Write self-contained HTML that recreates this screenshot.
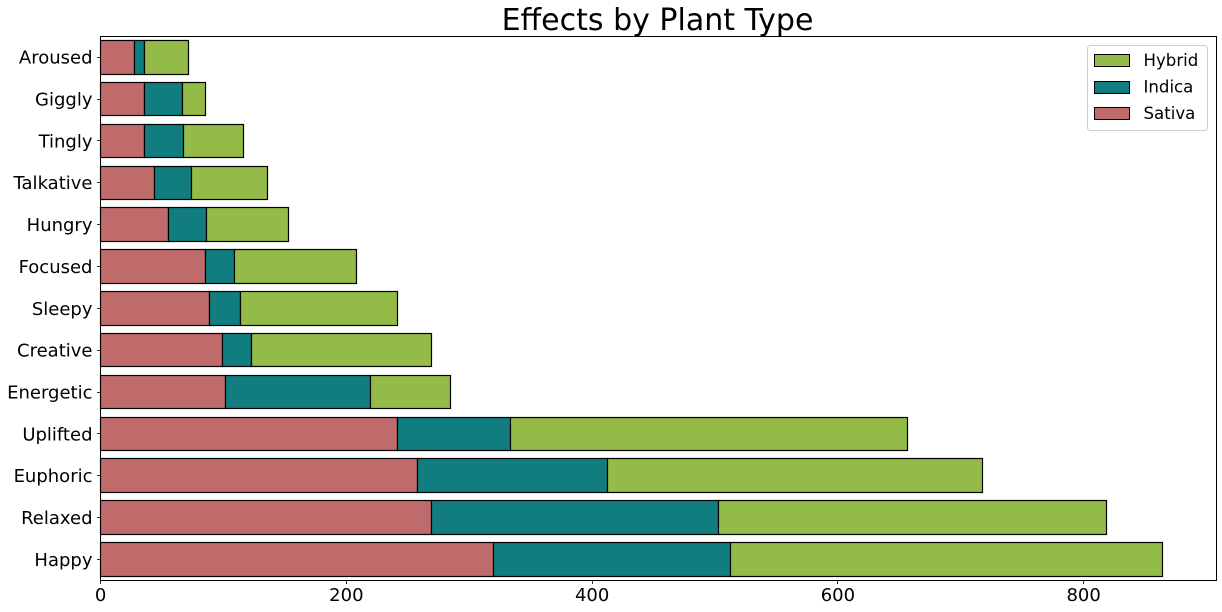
<!DOCTYPE html>
<html>
<head>
<meta charset="utf-8">
<title>Effects by Plant Type</title>
<style>
html,body{margin:0;padding:0;background:#fff;}
svg{display:block;}
text{font-family:"DejaVu Sans",sans-serif;fill:#000;}
</style>
</head>
<body>
<svg id="chart" xmlns="http://www.w3.org/2000/svg" width="1222" height="612" viewBox="0 0 1222 612"></svg>
<script>
const categories = ["Happy","Relaxed","Euphoric","Uplifted","Energetic","Creative","Sleepy","Focused","Hungry","Talkative","Tingly","Giggly","Aroused"];
const sativa = [320,269,258,241.5,102,99,88.5,85,55,44,36,36,27.5];
const indica = [193,234,154.5,92,118,24,25.5,24,31,30,31.5,31,8.5];
const hybrid = [351,316,305,323.5,65,146,128,99,67,62,48.5,18,35.5];
const xTicks = [0,200,400,600,800];
const legendLabels = ["Hybrid","Indica","Sativa"];

const NS = "http://www.w3.org/2000/svg";
const svg = document.getElementById("chart");
const plot = {left:100.5, right:1216.5, top:36.5, bottom:580.5};
const colors = {Sativa:"#bf6a6b", Indica:"#117d7e", Hybrid:"#94bb47"};

function xScale(v){ return 100.6 + v * 1.2288; }
function yScale(i){ return 559.4 - i * 41.84; }
function snap(p){ return Math.floor(p) + 0.5; }
const bandHeight = yScale(0) - yScale(0.8);

function add(tag, attrs, text){
  const el = document.createElementNS(NS, tag);
  for (const k in attrs) el.setAttribute(k, attrs[k]);
  if (text !== undefined) el.textContent = text;
  svg.appendChild(el);
  return el;
}

function drawSegment(start, value, color, seriesName, category){
  const x0 = snap(xScale(start));
  const x1 = snap(xScale(start + value));
  const i = categories.indexOf(category);
  const y0 = snap(yScale(i) - bandHeight / 2);
  const y1 = snap(yScale(i) + bandHeight / 2);
  const el = add("rect", {
    x: x0, y: y0, width: x1 - x0, height: y1 - y0,
    fill: color, stroke: "#000", "stroke-width": 1.2
  });
  
  
}

// bars
categories.forEach(function(cat, i){
  drawSegment(0, sativa[i], colors.Sativa, 'sativa', cat);
  drawSegment(sativa[i], indica[i], colors.Indica, 'indica', cat);
  drawSegment(sativa[i] + indica[i], hybrid[i], colors.Hybrid, 'hybrid', cat);
});

// axes frame
const frame = add("rect", {x:plot.left, y:plot.top, width:plot.right-plot.left, height:plot.bottom-plot.top, fill:"none", stroke:"#000", "stroke-width":1});



// y ticks
categories.forEach(function(cat, i){
  const y = snap(yScale(i));
  const tick = add("line", {x1:plot.left-3.5, x2:plot.left, y1:y, y2:y, stroke:"#000", "stroke-width":0.8});
  
  
  const label = add("text", {x:plot.left-8, y:yScale(i)+6.4, "text-anchor":"end", "font-size":18}, cat);
  
  
});

// x ticks
xTicks.forEach(function(v){
  const x = snap(xScale(v));
  const tick = add("line", {x1:x, x2:x, y1:plot.bottom, y2:plot.bottom+3.5, stroke:"#000", "stroke-width":0.8});
  
  
  const label = add("text", {x:xScale(v), y:601, "text-anchor":"middle", "font-size":18}, String(v));
  
  
});

// title
const title = add("text", {x:657.5, y:30, "text-anchor":"middle", "font-size":30}, "Effects by Plant Type");



// legend
const legendBox = add("rect", {x:1087.5, y:45.5, width:120, height:85, rx:3, ry:3, fill:"#fff", "fill-opacity":0.8, stroke:"#ccc", "stroke-width":1});


legendLabels.forEach(function(name, i){
  const top = 54.5 + i * 26.5;
  const swatch = add("rect", {x:1094.5, y:snap(top), width:35, height:12, fill:colors[name], stroke:"#000", "stroke-width":1});
  
  
  const label = add("text", {x:1143.5, y:top+11.7, "font-size":16.6}, name);
  
  
});
</script>
</body>
</html>
